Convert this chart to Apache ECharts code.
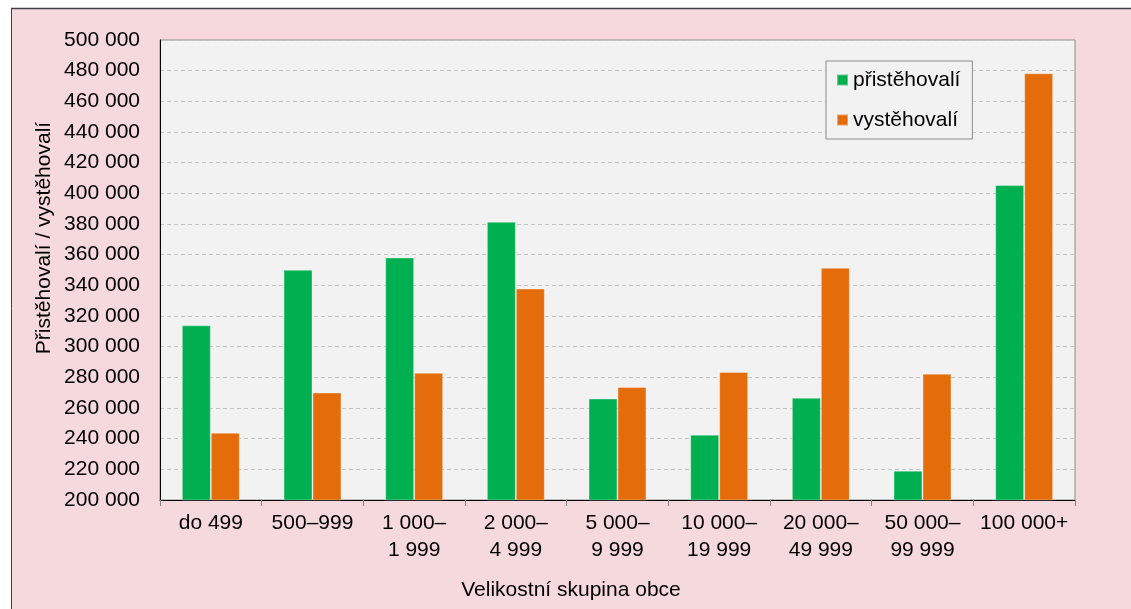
<!DOCTYPE html>
<html>
<head>
<meta charset="utf-8">
<script src="https://cdn.jsdelivr.net/npm/echarts@6/dist/echarts.min.js"></script>
<style>html,body{margin:0;padding:0;background:#fff;}#c{width:1131px;height:609px;}</style>
</head>
<body>
<div id="c"></div>
<script>
const categories = ['do 499', '500–999', '1 000–\n1 999', '2 000–\n4 999', '5 000–\n9 999', '10 000–\n19 999', '20 000–\n49 999', '50 000–\n99 999', '100 000+'];
const seriesNames = ['přistěhovalí', 'vystěhovalí'];
const prist = [313900, 350200, 358200, 381500, 266200, 242600, 266700, 219100, 405400];
const vyst = [243900, 270100, 283000, 337900, 273700, 283500, 351500, 282400, 478300];
const yTicks = { min: 200000, max: 500000, interval: 20000 };
const yAxisTitle = 'Přistěhovalí / vystěhovalí';
const xAxisTitle = 'Velikostní skupina obce';

const FONT = '"Liberation Sans", Arial, sans-serif';
const FS = 21;
const chart = echarts.init(document.getElementById('c'));
function fmt(v) { return String(v).replace(/\B(?=(\d{3})+(?!\d))/g, ' '); }

chart.setOption({
  backgroundColor: '#f6d9dd',
  animation: false,
  textStyle: { fontFamily: FONT },
  graphic: [
    { type: 'rect', shape: { x: 0, y: 0, width: 1131, height: 8 }, style: { fill: '#ffffff' }, silent: true },
    { type: 'rect', shape: { x: 0, y: 0, width: 11, height: 609 }, style: { fill: '#ffffff' }, silent: true },
    { type: 'line', shape: { x1: 11, y1: 8.5, x2: 1131, y2: 8.5 }, style: { stroke: '#404040', lineWidth: 1.5 }, silent: true },
    { type: 'line', shape: { x1: 11.5, y1: 8, x2: 11.5, y2: 609 }, style: { stroke: '#404040', lineWidth: 1 }, silent: true },
    { type: 'text', x: 44, y: 238, rotation: Math.PI / 2,
      style: { text: yAxisTitle, fill: '#000', font: FS + 'px ' + FONT, align: 'center', verticalAlign: 'middle' } },
    { type: 'text', x: 571, y: 590,
      style: { text: xAxisTitle, fill: '#000', font: FS + 'px ' + FONT, align: 'center', verticalAlign: 'middle' } }
  ],
  grid: {
    left: 160, right: 56, top: 40, bottom: 109,
    show: true, backgroundColor: '#f2f2f2', borderColor: '#8c8c8c', borderWidth: 1
  },
  legend: {
    data: seriesNames,
    orient: 'vertical',
    left: 826, top: 61,
    padding: [8, 12, 8, 10],
    itemGap: 18,
    itemWidth: 11, itemHeight: 11,
    icon: 'rect',
    backgroundColor: '#f2f2f2',
    borderColor: '#8c8c8c', borderWidth: 1,
    textStyle: { fontSize: FS, color: '#000', lineHeight: 22, fontFamily: FONT }
  },
  xAxis: {
    type: 'category',
    data: categories,
    axisLine: { lineStyle: { color: '#000', width: 1 } },
    axisTick: { show: true, length: 6, lineStyle: { color: '#808080' } },
    axisLabel: { fontSize: FS, color: '#000', lineHeight: 27, margin: 10, interval: 0, fontFamily: FONT }
  },
  yAxis: {
    type: 'value',
    min: yTicks.min, max: yTicks.max, interval: yTicks.interval,
    axisLine: { show: true, lineStyle: { color: '#000', width: 1 } },
    axisTick: { show: false },
    axisLabel: { fontSize: FS, color: '#000', margin: 20, formatter: fmt, fontFamily: FONT },
    splitLine: { show: true, lineStyle: { color: '#c4c4c4', type: [4, 3], width: 1 } }
  },
  series: [
    { name: seriesNames[0], type: 'bar', data: prist, barGap: '0%', barCategoryGap: '43%',
      itemStyle: { color: '#00b050', borderColor: 'rgba(255,255,255,0.35)', borderWidth: 1 } },
    { name: seriesNames[1], type: 'bar', data: vyst, barGap: '0%', barCategoryGap: '43%',
      itemStyle: { color: '#e46c0a', borderColor: 'rgba(255,255,255,0.35)', borderWidth: 1 } }
  ]
});
</script>
</body>
</html>
